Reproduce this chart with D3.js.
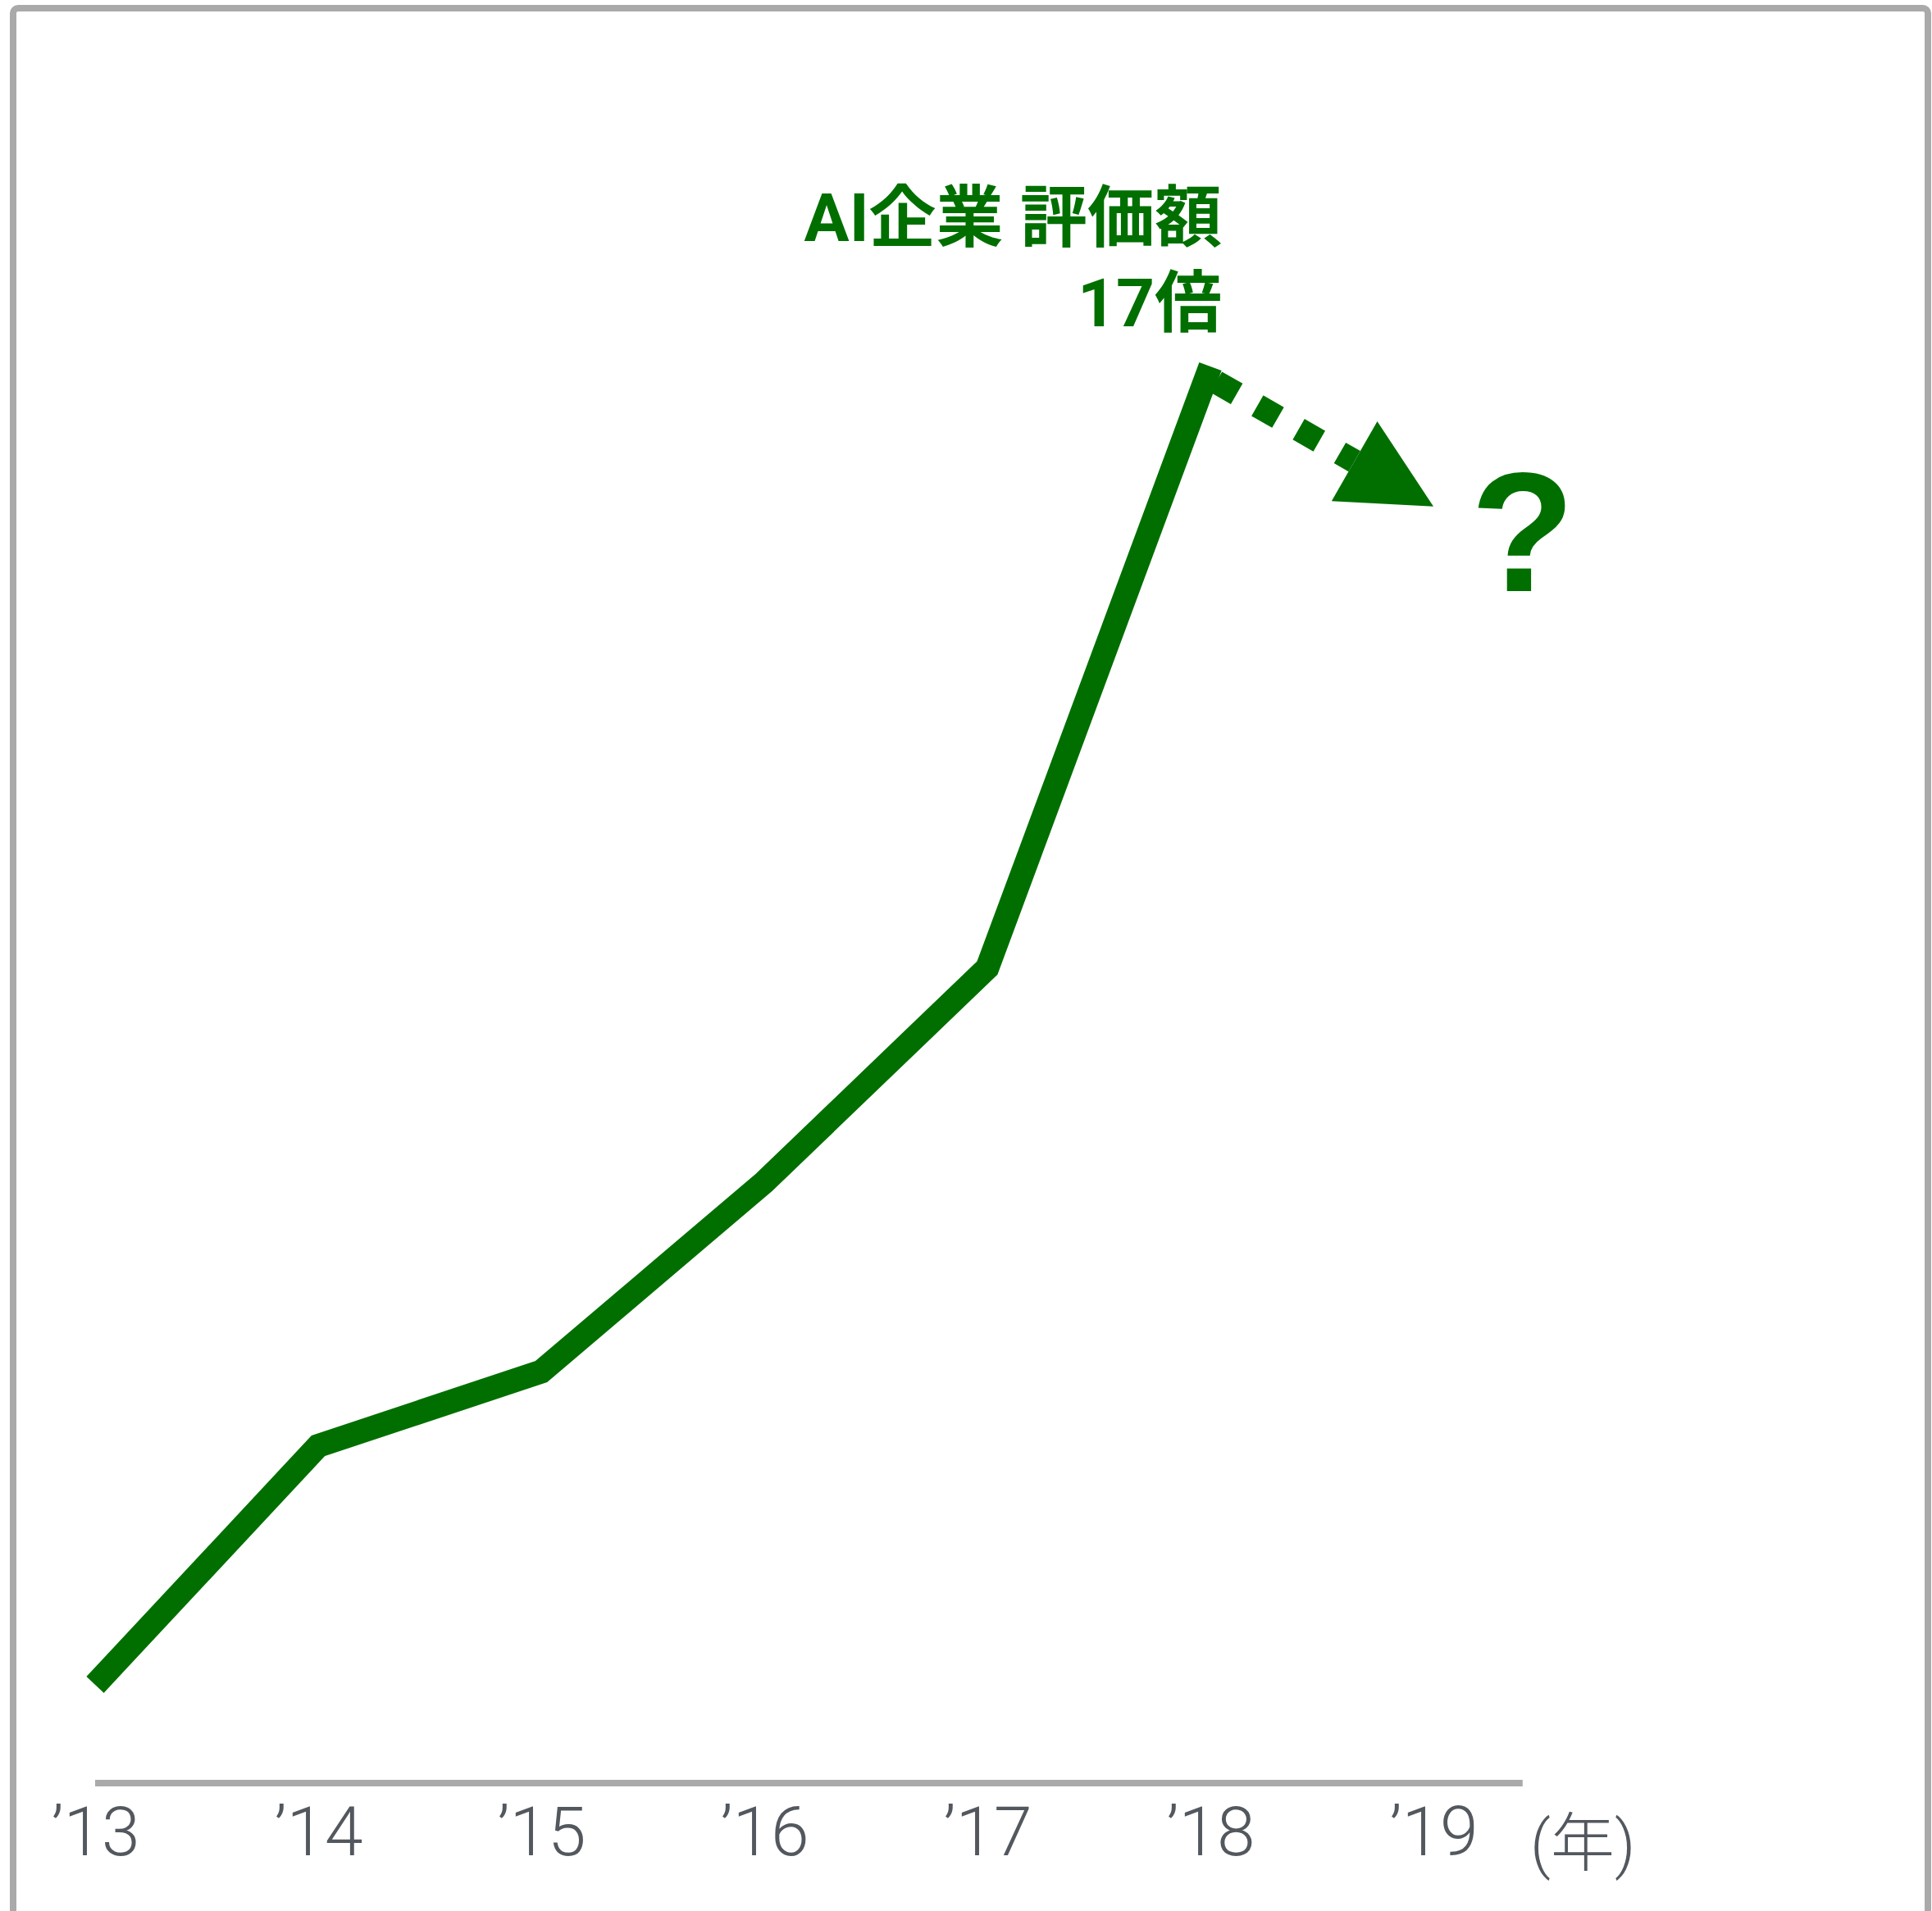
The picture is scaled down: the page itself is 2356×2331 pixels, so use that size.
<!DOCTYPE html>
<html lang="ja">
<head>
<meta charset="utf-8">
<script src="https://cdn.jsdelivr.net/npm/d3@7/dist/d3.min.js"></script>
<style>
  html, body { margin: 0; padding: 0; background: #ffffff; }
  svg { display: block; }
</style>
</head>
<body>
<svg id="chart" width="2356" height="2331"></svg>
<script>
// Valuation of AI companies, indexed to 2013 = 1
const years = [2013, 2014, 2015, 2016, 2017, 2018];
const valuation = [1, 3.9, 4.8, 7.1, 9.7, 17];

// Forecast arrow: from the 2018 peak toward an uncertain 2019
const forecastYears = [2018, 2019];
const forecastValues = [17, 15.3];

// Axis ticks
const tickYears = [2013, 2014, 2015, 2016, 2017, 2018, 2019];
const tickLabels = ["’13", "’14", "’15", "’16", "’17", "’18", "’19"];
const unitLabel = "(年)";

const titleLines = ["AI企業 評価額", "17倍"];
const forecastMark = "?";

const W = 2356, H = 2331;
const green = "#006f00";
const grey = "#aaaaaa";
const tickColor = "#53585f";
const titleFont = "Roboto, 'Noto Sans CJK JP', sans-serif";
const tickFont = "Roboto, 'Noto Sans CJK JP', sans-serif";

const svg = d3.select("#chart");

// Frame
svg.append("rect")
  .attr("x", 16).attr("y", 10)
  .attr("width", W - 16 - 5).attr("height", H + 40)
  .attr("rx", 6).attr("ry", 6)
  .attr("fill", "none")
  .attr("stroke", grey)
  .attr("stroke-width", 8);

const x = d3.scaleLinear().domain([2013, 2019]).range([116, 1748]);
const y = d3.scaleLinear().domain([1, 17]).range([2055, 447]);

// Baseline
const axisY = 2175;
svg.append("line")
  .attr("x1", x(2013)).attr("x2", x(2019.4))
  .attr("y1", axisY).attr("y2", axisY)
  .attr("stroke", grey)
  .attr("stroke-width", 8);

// Tick labels
const axis = d3.axisBottom(x)
  .tickValues(tickYears)
  .tickSize(0)
  .tickFormat((d, i) => tickLabels[i]);

const gAxis = svg.append("g")
  .attr("transform", `translate(0,${axisY})`)
  .call(axis);
gAxis.select(".domain").remove();
gAxis.selectAll("text")
  .attr("y", 88)
  .attr("dy", 0)
  .attr("fill", tickColor)
  .style("font-family", tickFont)
  .style("font-weight", 300)
  .style("font-size", "84px");

svg.append("text")
  .attr("x", 1866)
  .attr("y", axisY + 101)
  .attr("fill", tickColor)
  .style("font-family", tickFont)
  .style("font-weight", 300)
  .style("font-size", "78px")
  .text(unitLabel);

// Main series
const series = years.map((yr, i) => [yr, valuation[i]]);
const line = d3.line().x(d => x(d[0])).y(d => y(d[1]));

svg.append("path")
  .datum(series)
  .attr("d", line)
  .attr("fill", "none")
  .attr("stroke", green)
  .attr("stroke-width", 29)
  .attr("stroke-linejoin", "miter")
  .attr("stroke-linecap", "butt");

// Dashed forecast arrow
const p0 = [x(forecastYears[0]) + 7, y(forecastValues[0]) + 19];
const tip = [x(forecastYears[1]), y(forecastValues[1])];
const dx = tip[0] - p0[0], dy = tip[1] - p0[1];
const len = Math.hypot(dx, dy);
const ux = dx / len, uy = dy / len;
const headLen = 111, headHalf = 56;
const base = [tip[0] - ux * headLen, tip[1] - uy * headLen];

svg.append("path")
  .attr("d", d3.line()([p0, base]))
  .attr("fill", "none")
  .attr("stroke", green)
  .attr("stroke-width", 29)
  .attr("stroke-dasharray", "29 29")
  .attr("stroke-linecap", "butt");

svg.append("path")
  .attr("d", d3.line()([
    tip,
    [base[0] - uy * headHalf, base[1] + ux * headHalf],
    [base[0] + uy * headHalf, base[1] - ux * headHalf]
  ]) + "Z")
  .attr("fill", green);

svg.append("text")
  .attr("x", x(2019.4))
  .attr("y", 721)
  .attr("text-anchor", "middle")
  .attr("fill", green)
  .style("font-family", "'Liberation Sans', Arial, sans-serif")
  .style("font-weight", 700)
  .style("font-size", "208px")
  .text(forecastMark);

// Headline
svg.append("g")
  .selectAll("text")
  .data(titleLines)
  .join("text")
  .attr("x", 1490)
  .attr("y", (d, i) => 294 + i * 104)
  .attr("text-anchor", "end")
  .attr("fill", green)
  .style("font-family", titleFont)
  .style("font-weight", 700)
  .style("font-size", "82px")
  .text(d => d);
</script>
</body>
</html>
